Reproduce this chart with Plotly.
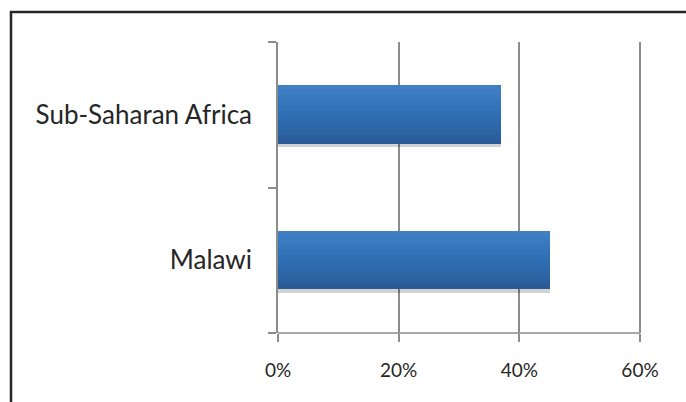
import plotly.graph_objects as go

# Share of population (horizontal bars)
regions = ["Malawi", "Sub-Saharan Africa"]
shares = [0.45, 0.37]
tick_vals = [0, 0.2, 0.4, 0.6]
tick_text = ["0%", "20%", "40%", "60%"]

# Vertical gradient of the bar fill, top (light) to bottom (dark)
grad_colors = ["#3f7fc2", "#3c7cc0", "#3979bd", "#3676ba", "#3373b7", "#3170b4",
               "#2f6db1", "#2e6aad", "#2d67a8", "#2c63a3", "#2c5f9d", "#2b5b96"]

bar_w = 0.4
n = len(grad_colors)
band = bar_w / n

fig = go.Figure()

# soft shadow under each bar
fig.add_trace(go.Bar(
    y=regions, x=shares, orientation="h",
    width=bar_w, offset=-bar_w / 2 - 0.022,
    marker=dict(color="rgba(0,0,0,0.18)", line=dict(width=0)),
    hoverinfo="skip", showlegend=False,
))

for i, c in enumerate(grad_colors):
    # band i counted from the top of the bar
    off = bar_w / 2 - (i + 1) * band
    fig.add_trace(go.Bar(
        y=regions, x=shares, orientation="h",
        width=band * 1.05, offset=off,
        marker=dict(color=c, line=dict(width=0)),
        hoverinfo="skip", showlegend=False,
    ))

# Plot area in pixels; the right margin leaves a little room past 60%
W, H = 686, 402
plot_l, plot_t, plot_b = 278, 42, 333
x60 = 640
plot_r = 643
x_max = 0.6 * (plot_r - plot_l) / (x60 - plot_l)
pw, ph = plot_r - plot_l, plot_b - plot_t


def px_x(x):
    return (x - plot_l) / pw


def px_y(y):
    return (plot_b - y) / ph


# Outer frame of the chart
fig.add_shape(type="path",
              path=f"M {px_x(720)},{px_y(12)} L {px_x(11)},{px_y(12)} L {px_x(11)},{px_y(440)}",
              xref="paper", yref="paper",
              line=dict(color="#262626", width=2.5))

# x axis baseline, ending at the last tick
fig.add_shape(type="line", x0=0, x1=tick_vals[-1], y0=0, y1=0,
              xref="x", yref="paper",
              line=dict(color="#8c8c8c", width=1.5))

font = "Lato, 'Open Sans', sans-serif"

fig.update_layout(
    width=W, height=H,
    margin=dict(l=plot_l, r=W - plot_r, t=plot_t, b=H - plot_b),
    paper_bgcolor="white", plot_bgcolor="white",
    barmode="overlay", bargap=0,
    showlegend=False,
    xaxis=dict(
        range=[0, x_max], tickvals=tick_vals, ticktext=tick_text,
        showgrid=True, gridcolor="#8c8c8c", gridwidth=1.5,
        showline=False,
        ticks="outside", ticklen=8, tickcolor="#8c8c8c", tickwidth=1.5,
        ticklabelstandoff=12,
        tickfont=dict(family=font, size=19, color="#262626"),
        zeroline=False, fixedrange=True,
    ),
    yaxis=dict(
        type="category", categoryorder="array", categoryarray=regions,
        range=[-0.5, 1.5],
        tickson="boundaries",
        showgrid=False,
        showline=True, linecolor="#8c8c8c", linewidth=1.5,
        ticks="outside", ticklen=8, tickcolor="#8c8c8c", tickwidth=1.5,
        ticklabelstandoff=19,
        tickfont=dict(family=font, size=26, color="#262626"),
        zeroline=False, fixedrange=True,
    ),
)

fig.write_html("out.html", config={"displayModeBar": False})
